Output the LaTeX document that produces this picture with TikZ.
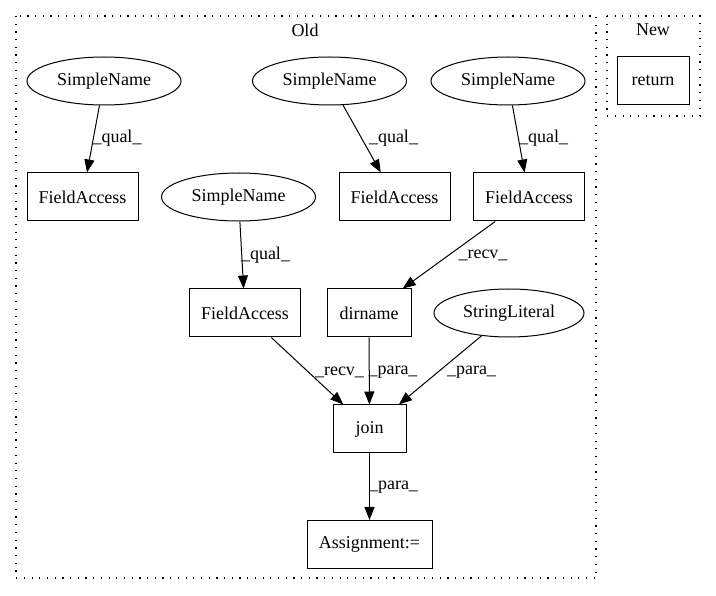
\documentclass[tikz,border=0pt]{standalone}
\usepackage{fontspec}
\setmainfont{Liberation Serif}
\usetikzlibrary{shapes.geometric,arrows.meta}
\begin{document}
\begin{tikzpicture}[x=1pt,y=-1pt,
  every node/.style={font=\fontsize{18}{20}\selectfont},
  sname/.style={draw,ellipse,line width=1pt,inner sep=0pt,minimum width=154pt,minimum height=48pt},
  abox/.style={draw,rectangle,line width=1pt,inner sep=0pt,minimum height=48pt},
  edge/.style={draw,line width=1pt,-{Triangle[length=13pt,width=10pt]}},
  elab/.style={inner sep=0pt},
  cluster/.style={draw,line width=1.2pt,dash pattern=on 1.2pt off 6.5pt}]
\useasboundingbox (0,0) rectangle (716,596);
% clusters
\draw[cluster] (16,16) rectangle (596,578);
\draw[cluster] (607,16) rectangle (700,116);
\node (oldt) at (305,30) {Old};
\node (newt) at (653,30) {New};
% nodes
\node[abox,minimum width=72pt] (ret) at (653,81) {return};
\node[sname] (sn1) at (104,81) {SimpleName};
\node[sname] (sn2) at (329.5,81) {SimpleName};
\node[sname] (sn3) at (508,81) {SimpleName};
\node[abox,minimum width=111pt] (fa1) at (82.5,197) {FieldAccess};
\node[abox,minimum width=111pt] (fa2) at (394.5,197) {FieldAccess};
\node[abox,minimum width=111pt] (fa3) at (529,197) {FieldAccess};
\node[sname] (sn4) at (238.5,197) {SimpleName};
\node[abox,minimum width=111pt] (fa4) at (245,313) {FieldAccess};
\node[abox,minimum width=84pt] (dir) at (369,313) {dirname};
\node[sname,minimum width=150pt] (sl) at (509,313) {StringLiteral};
\node[abox,minimum width=73pt] (join) at (369.5,429) {join};
\node[abox,minimum width=125pt] (asg) at (369.5,544.5) {Assignment:=};
% edges
\draw[edge] (sn1) -- (fa1);
\draw[edge] (sn2) -- (fa2);
\draw[edge] (sn3) -- (fa3);
\draw[edge] (sn4) -- (fa4);
\draw[edge] (fa3) -- (dir);
\draw[edge] (fa4) -- (join);
\draw[edge] (dir) -- (join);
\draw[edge] (sl) -- (join);
\draw[edge] (join) -- (asg);
% edge labels
\node[elab] (l1) at (117,138) {\_qual\_};
\node[elab] (l2) at (393.5,138) {\_qual\_};
\node[elab] (l3) at (543.5,138) {\_qual\_};
\node[elab] (l4) at (265.5,255) {\_qual\_};
\node[elab] (l5) at (483,255) {\_recv\_};
\node[elab] (l6) at (339.5,372) {\_recv\_};
\node[elab] (l7) at (393,372) {\_para\_};
\node[elab] (l8) at (471.5,372) {\_para\_};
\node[elab] (l9) at (393.5,487) {\_para\_};
\end{tikzpicture}
\end{document}
